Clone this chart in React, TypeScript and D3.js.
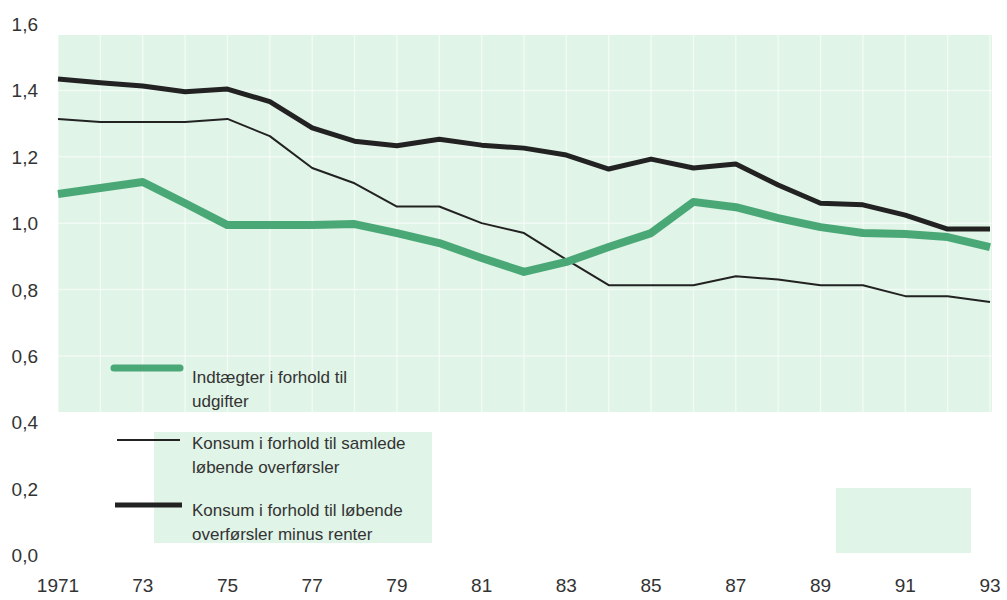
import React from "react";
import * as d3 from "d3";

const years = d3.range(1971, 1994);
const indtaegter = [1.088, 1.106, 1.124, 1.06, 0.994, 0.994, 0.994, 0.997, 0.97, 0.94, 0.895, 0.853, 0.883, 0.928, 0.97, 1.064, 1.048, 1.015, 0.988, 0.97, 0.967, 0.958, 0.928];
const konsumSamlede = [1.314, 1.305, 1.305, 1.305, 1.314, 1.262, 1.166, 1.12, 1.05, 1.05, 1.0, 0.97, 0.89, 0.813, 0.813, 0.813, 0.84, 0.83, 0.813, 0.813, 0.78, 0.78, 0.762];
const konsumMinusRenter = [1.434, 1.423, 1.413, 1.396, 1.404, 1.366, 1.287, 1.247, 1.233, 1.253, 1.235, 1.226, 1.205, 1.163, 1.193, 1.166, 1.178, 1.115, 1.06, 1.055, 1.024, 0.982, 0.982];
const yTicks = [0, 0.2, 0.4, 0.6, 0.8, 1.0, 1.2, 1.4, 1.6];
const xTickYears = [1971, 1973, 1975, 1977, 1979, 1981, 1983, 1985, 1987, 1989, 1991, 1993];
const xTickLabels = ["1971", "73", "75", "77", "79", "81", "83", "85", "87", "89", "91", "93"];
const legendLabels = [
  ["Indtægter i forhold til", "udgifter"],
  ["Konsum i forhold til samlede", "løbende overførsler"],
  ["Konsum i forhold til løbende", "overførsler minus renter"],
];

const GREEN = "#4aa877";
const BG = "#e0f4e7";
const DARK = "#222";
const TEXT = "#333";
const FONT = "'Liberation Sans', Arial, sans-serif";

export default function App() {
  const W = 1007, H = 600;
  const x = d3.scaleLinear().domain([1971, 1993]).range([58, 990]);
  const y = d3.scaleLinear().domain([0, 1.6]).range([555, 24]);
  const line = d3.line<number>().x((_, i) => x(years[i])).y((d) => y(d));

  return (
    <div style={{ position: "absolute", left: 0, top: 0 }}>
      <svg width={W} height={H} style={{ display: "block", background: "#fff" }} fontFamily={FONT}>
        {/* background panels */}
        <rect x={x(1971)} y={35} width={x(1993) + 2 - x(1971)} height={412 - 35} fill={BG} />
        <rect x={154} y={432} width={432 - 154} height={543 - 432} fill={BG} />
        <rect x={836} y={488} width={971 - 836} height={553 - 488} fill={BG} />
        {/* white screen gridlines */}
        {years.map((yr) => (
          <line key={"v" + yr} x1={x(yr)} x2={x(yr)} y1={35} y2={412} stroke="#fff" strokeWidth={1.5} opacity={0.55} />
        ))}
        {yTicks.filter((t) => t > 0.4 && t < 1.6).map((t) => (
          <line key={"h" + t} x1={x(1971)} x2={x(1993) + 2} y1={y(t)} y2={y(t)} stroke="#fff" strokeWidth={1.5} opacity={0.55} />
        ))}
        {/* y tick labels */}
        {yTicks.map((t) => (
          <text key={"yt" + t} x={38} y={y(t) + 7} textAnchor="end" fontSize={19} fill={TEXT}>
            {d3.format(".1f")(t).replace(".", ",")}
          </text>
        ))}
        {/* x tick labels */}
        {xTickYears.map((yr, i) => (
          <text key={"xt" + yr} x={x(yr)} y={592} textAnchor="middle" fontSize={19} fill={TEXT}>
            {xTickLabels[i]}
          </text>
        ))}
        {/* lines */}
        <path d={line(konsumSamlede) || ""} fill="none" stroke={DARK} strokeWidth={2} strokeLinejoin="round" />
        <path d={line(indtaegter) || ""} fill="none" stroke={GREEN} strokeWidth={8} strokeLinejoin="round" />
        <path d={line(konsumMinusRenter) || ""} fill="none" stroke={DARK} strokeWidth={5} strokeLinejoin="round" />
        {/* legend */}
        <line x1={114} x2={180} y1={368} y2={368} stroke={GREEN} strokeWidth={7} strokeLinecap="round" />
        <line x1={117} x2={180} y1={440} y2={440} stroke={DARK} strokeWidth={2} />
        <line x1={115} x2={182} y1={505} y2={505} stroke={DARK} strokeWidth={5} />
        {legendLabels.map((lines, i) => (
          <text key={"lg" + i} x={192} y={[383, 449, 516][i]} fontSize={17} fill={TEXT}>
            <tspan x={192}>{lines[0]}</tspan>
            <tspan x={192} dy={24}>{lines[1]}</tspan>
          </text>
        ))}
      </svg>
    </div>
  );
}
